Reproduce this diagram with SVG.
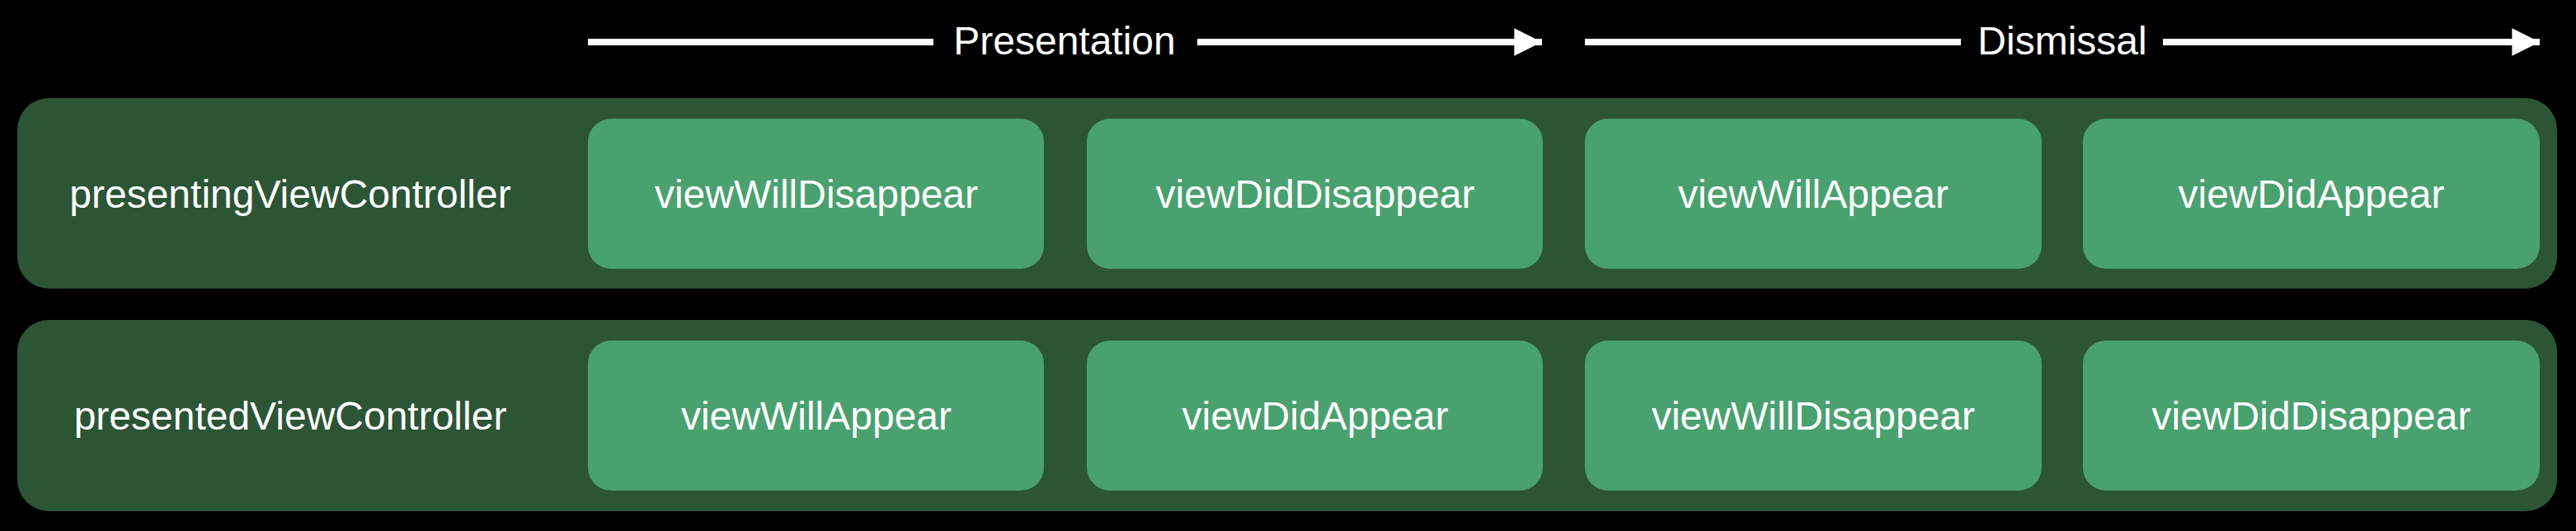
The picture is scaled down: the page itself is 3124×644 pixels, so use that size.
<svg xmlns="http://www.w3.org/2000/svg" width="3124" height="644" viewBox="0 0 3124 644">
<style>
.panel{fill:#2c5535}
.box{fill:#4aa170}
text{font-family:"Liberation Sans",Arial,sans-serif;font-size:48px;fill:#fff;text-anchor:middle}
.ln{stroke:#fff;stroke-width:8;fill:none}
</style>
<defs><marker id="ah" viewBox="0 0 10 10" refX="10" refY="5" markerWidth="4.2" markerHeight="4.2" markerUnits="strokeWidth" orient="auto"><path d="M0,0L10,5L0,10z" fill="#fff"/></marker></defs>
<rect width="3124" height="644" fill="#000"/>
<g id="connectors">
<line class="ln" x1="713" y1="51" x2="1132" y2="51"/>
<line class="ln" x1="1452" y1="51" x2="1870" y2="51" marker-end="url(#ah)"/>
<line class="ln" x1="1922" y1="51" x2="2378" y2="51"/>
<line class="ln" x1="2623" y1="51" x2="3080" y2="51" marker-end="url(#ah)"/>
<text x="1291" y="66">Presentation</text>
<text x="2501" y="66">Dismissal</text>
</g>
<g id="row1"><rect class="panel" x="21" y="119" width="3080" height="231" rx="38"/><text x="352" y="252">presentingViewController</text></g>
<g id="row2"><rect class="panel" x="21" y="388" width="3080" height="232" rx="38"/><text x="352" y="521">presentedViewController</text></g>
<g id="n1"><rect class="box" x="713" y="144" width="553" height="182" rx="28"/><text x="990" y="252">viewWillDisappear</text></g>
<g id="n2"><rect class="box" x="1318" y="144" width="553" height="182" rx="28"/><text x="1595" y="252">viewDidDisappear</text></g>
<g id="n3"><rect class="box" x="1922" y="144" width="554" height="182" rx="28"/><text x="2199" y="252">viewWillAppear</text></g>
<g id="n4"><rect class="box" x="2526" y="144" width="554" height="182" rx="28"/><text x="2803" y="252">viewDidAppear</text></g>
<g id="n5"><rect class="box" x="713" y="413" width="553" height="182" rx="28"/><text x="990" y="521">viewWillAppear</text></g>
<g id="n6"><rect class="box" x="1318" y="413" width="553" height="182" rx="28"/><text x="1595" y="521">viewDidAppear</text></g>
<g id="n7"><rect class="box" x="1922" y="413" width="554" height="182" rx="28"/><text x="2199" y="521">viewWillDisappear</text></g>
<g id="n8"><rect class="box" x="2526" y="413" width="554" height="182" rx="28"/><text x="2803" y="521">viewDidDisappear</text></g>
</svg>
